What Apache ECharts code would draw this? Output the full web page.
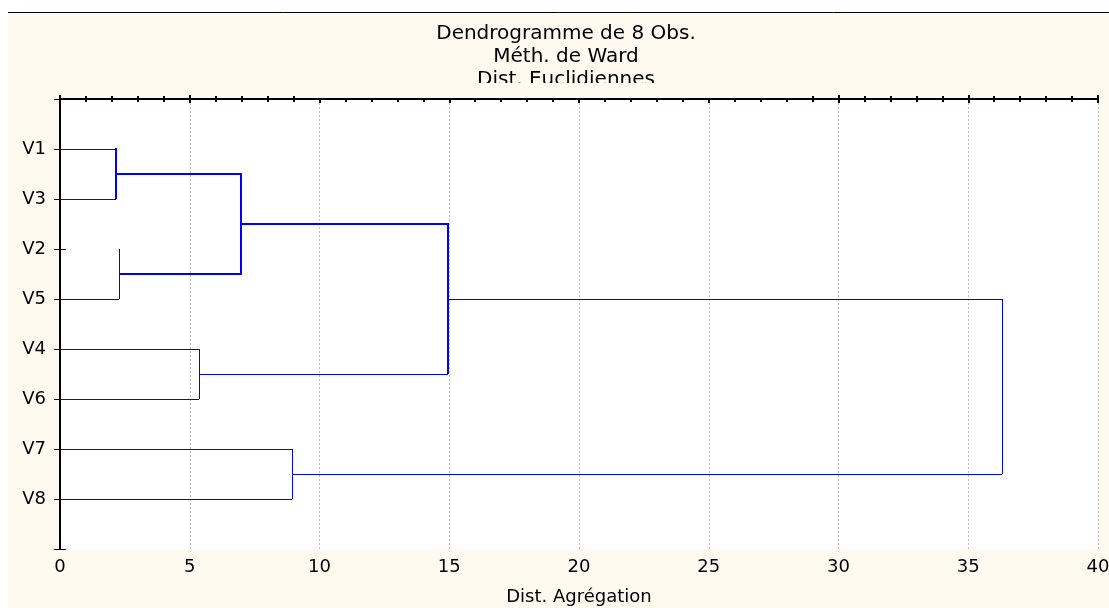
<!DOCTYPE html>
<html>
<head>
<meta charset="utf-8">
<script src="https://cdn.jsdelivr.net/npm/echarts@6/dist/echarts.min.js"></script>
<style>html,body{margin:0;padding:0;background:#fff}#c{width:1109px;height:608px}</style>
</head>
<body>
<div id="c"></div>
<script>
// ---- data ----
const titleLines = ['Dendrogramme de 8 Obs.', 'Méth. de Ward', 'Dist. Euclidiennes'];
const axisName = 'Dist. Agrégation';
const leafOrder = ['V1', 'V3', 'V2', 'V5', 'V4', 'V6', 'V7', 'V8'];
const yLabels = ['V1', 'V3', 'V2', 'V5', 'V4', 'V6', 'V7', 'V8'];
const xTicks = [0, 5, 10, 15, 20, 25, 30, 35, 40];
// merges: [childA, childB, linkage distance]; clusters are named C1..C7 in order
const mergeA = ['V1', 'V2', 'V4', 'C1', 'V7', 'C4', 'C6'];
const mergeB = ['V3', 'V5', 'V6', 'C2', 'V8', 'C3', 'C5'];
const mergeDist = [2.15, 2.28, 5.37, 6.96, 8.95, 14.96, 36.31];

// ---- styles (per merge: [childA horizontal, vertical, childB horizontal]) ----
const segWidth = [
  [1, 2, 1],
  [0, 1, 1],
  [1, 1, 1],
  [2, 2, 2],
  [1, 1, 1],
  [2, 2, 1],
  [1, 1, 1]
];

// ---- build dendrogram segments ----
const nodes = {};
leafOrder.forEach((n, i) => { nodes[n] = { x: 0, y: i + 1 }; });
const segs = []; // [x1, y1, x2, y2, width]
mergeDist.forEach((h, i) => {
  const a = nodes[mergeA[i]], b = nodes[mergeB[i]];
  const w = segWidth[i];
  if (w[0]) segs.push([a.x, a.y, h, a.y, w[0]]);
  if (w[1]) segs.push([h, a.y, h, b.y, w[1]]);
  if (w[2]) segs.push([b.x, b.y, h, b.y, w[2]]);
  nodes['C' + (i + 1)] = { x: h, y: (a.y + b.y) / 2 };
});

function snap(v, w) { return w % 2 ? Math.floor(v) + 0.5 : Math.round(v); }

const FONT = 'DejaVu Sans';
const chart = echarts.init(document.getElementById('c'), null, { renderer: 'canvas' });
const axisLineStyle = { color: '#000', width: 2 };
chart.setOption({
  backgroundColor: '#fffaef',
  animation: false,
  graphic: [
    { type: 'rect', shape: { x: 0, y: 0, width: 1109, height: 12 }, style: { fill: '#ffffff' }, z: 50 },
    { type: 'rect', shape: { x: 0, y: 0, width: 8, height: 608 }, style: { fill: '#ffffff' }, z: 50 },
    { type: 'line', shape: { x1: 8, y1: 12.5, x2: 1109, y2: 12.5 }, style: { stroke: '#000', lineWidth: 1 }, z: 51 },
    { type: 'text', x: 566, y: 22, z: 60,
      style: { text: titleLines.join('\n'), fill: '#000', font: '20px "' + FONT + '"', align: 'center', lineHeight: 23 } },
    { type: 'rect', shape: { x: 300, y: 83, width: 500, height: 15 }, style: { fill: '#fffaef' }, z: 70 }
  ],
  grid: { left: 60, right: 11, top: 99, bottom: 59, show: true, backgroundColor: '#ffffff', borderWidth: 0,
          containLabel: false, outerBoundsMode: 'none' },
  xAxis: [
    {
      type: 'value', min: xTicks[0], max: xTicks[xTicks.length - 1], interval: xTicks[1] - xTicks[0],
      position: 'bottom',
      name: axisName, nameLocation: 'middle', nameGap: 39,
      nameTextStyle: { fontFamily: FONT, fontSize: 18, color: '#000' },
      axisLine: { show: true, lineStyle: axisLineStyle },
      axisTick: { show: true, inside: false, length: -4, lineStyle: { color: '#000', width: 2 } },
      minorTick: { show: true, splitNumber: 5, length: -3, lineStyle: { color: '#000', width: 2 } },
      axisLabel: { fontFamily: FONT, fontSize: 18, color: '#000', margin: 9 },
      splitLine: { show: true, lineStyle: { color: '#c0c0c0', type: [2, 2], width: 1 } }
    },
    {
      type: 'value', min: xTicks[0], max: xTicks[xTicks.length - 1], interval: xTicks[1] - xTicks[0],
      position: 'top',
      axisLine: { show: true, lineStyle: axisLineStyle },
      axisTick: { show: true, inside: false, length: -4, lineStyle: { color: '#000', width: 2 } },
      minorTick: { show: true, splitNumber: 5, length: -3, lineStyle: { color: '#000', width: 2 } },
      axisLabel: { show: false },
      splitLine: { show: false }
    }
  ],
  yAxis: [
    {
      type: 'value', min: 0, max: yLabels.length + 1, interval: 1, inverse: true,
      position: 'left',
      axisLine: { show: true, lineStyle: axisLineStyle },
      axisTick: { show: true, inside: false, length: -6, lineStyle: { color: '#000', width: 1 } },
      axisLabel: {
        fontFamily: FONT, fontSize: 18, color: '#000', margin: 14,
        formatter: v => (v >= 1 && v <= yLabels.length) ? yLabels[v - 1] : ''
      },
      splitLine: { show: false }
    },
    {
      type: 'value', min: 0, max: yLabels.length + 1, interval: 1, inverse: true,
      position: 'right',
      axisLine: { show: true, lineStyle: axisLineStyle },
      axisTick: { show: true, inside: false, length: -6, lineStyle: { color: '#000', width: 1 } },
      axisLabel: { show: false },
      splitLine: { show: false }
    }
  ],
  series: [{
    type: 'custom',
    coordinateSystem: 'cartesian2d',
    xAxisIndex: 0, yAxisIndex: 0,
    silent: true,
    clip: false,
    z: 10,
    data: segs,
    encode: { x: [0, 2], y: [1, 3] },
    renderItem: function (params, api) {
      const p1 = api.coord([api.value(0), api.value(1)]);
      const p2 = api.coord([api.value(2), api.value(3)]);
      const w = api.value(4);
      let x1 = p1[0], y1 = p1[1], x2 = p2[0], y2 = p2[1];
      if (Math.abs(y1 - y2) < 0.01) { y1 = y2 = snap(y1, w); x1 = Math.round(x1); x2 = Math.round(x2) + (w > 1 ? 1 : 0); }
      else { x1 = x2 = snap(x1, w); y1 = Math.round(y1); y2 = Math.round(y2); if (y2 > y1) { y1 -= w > 1 ? 1 : 0; } }
      return {
        type: 'line',
        shape: { x1: x1, y1: y1, x2: x2, y2: y2 },
        style: { stroke: '#0000ff', lineWidth: w, lineCap: 'butt' }
      };
    }
  }]
});
</script>
</body>
</html>
